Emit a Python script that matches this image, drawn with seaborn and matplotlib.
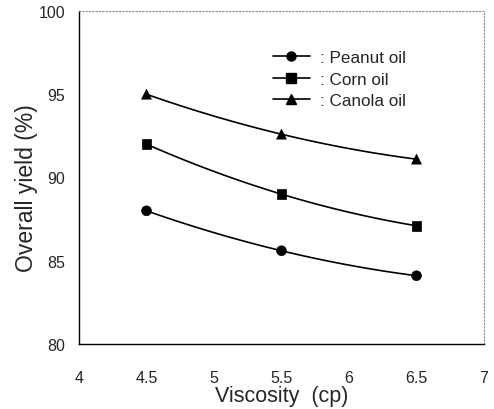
import numpy as np
import pandas as pd
import matplotlib
matplotlib.use("Agg")
import matplotlib.pyplot as plt
import seaborn as sns
from matplotlib.lines import Line2D

viscosity = [4.5, 5.5, 6.5]
peanut = [88.0, 85.6, 84.1]
corn = [92.0, 89.0, 87.1]
canola = [95.0, 92.6, 91.1]
series_names = [": Peanut oil", ": Corn oil", ": Canola oil"]
markers = ["o", "s", "^"]
xticks = [4, 4.5, 5, 5.5, 6, 6.5, 7]
yticks = [80, 85, 90, 95, 100]

sns.set_theme(style="white")
plt.rcParams['font.family'] = ['Liberation Sans', 'DejaVu Sans']

df = pd.DataFrame({
    "x": viscosity * 3,
    "y": peanut + corn + canola,
    "s": [n for n in series_names for _ in viscosity],
})

fig = plt.figure(figsize=(4.94, 4.10), dpi=100)
ax = fig.add_axes([79/494, 1-345/410, (484-79)/494, (345-12)/410])

# smooth curves through the points
xs = np.linspace(min(viscosity), max(viscosity), 100)
for vals in (peanut, corn, canola):
    c = np.polyfit(viscosity, vals, 2)
    ax.plot(xs, np.polyval(c, xs), color="black", lw=1.2, zorder=2)

sns.scatterplot(data=df, x="x", y="y", style="s", markers=dict(zip(series_names, markers)),
                color="black", s=50, edgecolor="black", linewidth=0.5, ax=ax, legend=False, zorder=3)

ax.set_xlim(4, 7)
ax.set_ylim(80, 100)
ax.set_xticks(xticks)
ax.set_xticklabels([f"{t:g}" for t in xticks])
ax.set_yticks(yticks)
ax.tick_params(axis="x", pad=19, labelsize=11.5, length=3, direction="in", width=0.8, color="#444444")
ax.tick_params(axis="y", pad=10, labelsize=11.5, length=0)
ax.set_xlabel("Viscosity  (cp)", fontsize=15.5, labelpad=0)
ax.set_ylabel("Overall yield (%)", fontsize=16.5)
ax.yaxis.set_label_coords(-0.10, 0.47)

for side in ("left", "bottom"):
    ax.spines[side].set_color("black")
    ax.spines[side].set_linewidth(1.0)
for side in ("top", "right"):
    ax.spines[side].set_color("#888888")
    ax.spines[side].set_linewidth(0.8)
    ax.spines[side].set_linestyle((0, (1, 2)))

handles = [Line2D([0], [0], color="black", lw=1.2, marker=m, markersize=6.5) for m in markers]
ax.legend(handles, series_names, loc="upper left", bbox_to_anchor=(0.44, 0.93), frameon=False,
          fontsize=12.3, handlelength=2.2, labelspacing=0.4, handletextpad=0.6)

fig.savefig("out.png", dpi=100)
